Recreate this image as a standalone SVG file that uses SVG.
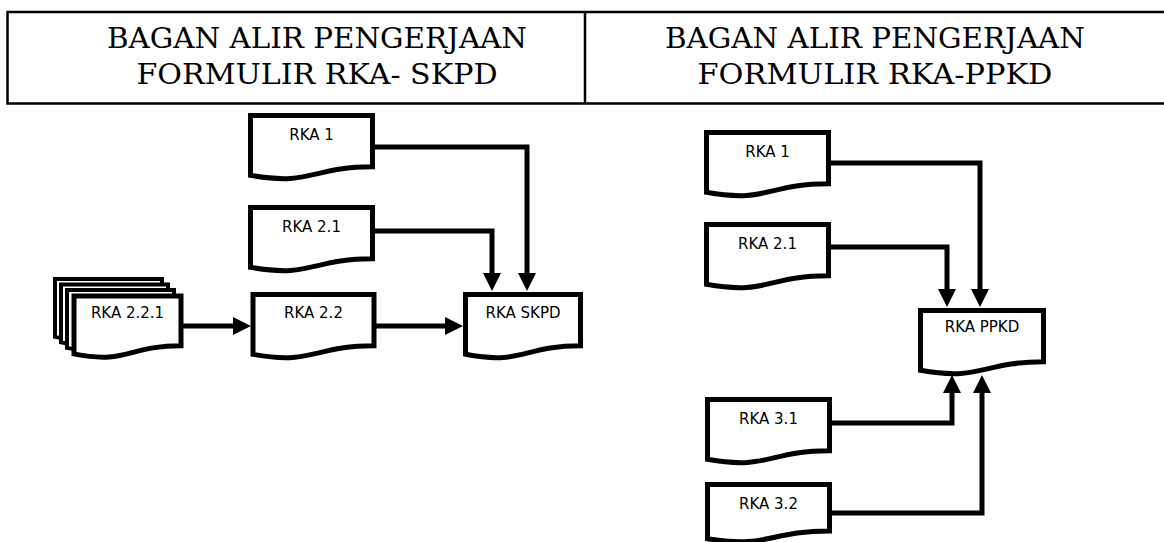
<svg xmlns="http://www.w3.org/2000/svg" width="1164" height="542" viewBox="0 0 1164 542">
<style>
.hdr{fill:none;stroke:#000;stroke-width:2.5}
.ht{font-family:"DejaVu Serif","Liberation Serif",serif;font-size:27px;fill:#000;text-anchor:middle}
.doc{fill:#fff;stroke:#000;stroke-width:5;stroke-linejoin:miter}
.stk{fill:#fff;stroke:#000;stroke-width:4;stroke-linejoin:miter}
.lbl{font-family:"DejaVu Sans","Liberation Sans",sans-serif;font-size:15px;fill:#000;text-anchor:middle}
.con{fill:none;stroke:#000;stroke-width:5;stroke-linejoin:miter;marker-end:url(#ah)}
</style>
<defs>
<marker id="ah" markerWidth="18" markerHeight="18" refX="0" refY="9" orient="auto" markerUnits="userSpaceOnUse" viewBox="0 0 18 18"><path d="M0,0 L18,9 L0,18 Z" fill="#000"/></marker>
</defs>
<rect width="1164" height="542" fill="#fff"/>
<g id="header">
<path class="hdr" d="M1164,12 H7.5 V103.5 H1164 M585,12 V103.5"/>
<text class="ht" x="317" y="48" textLength="420" lengthAdjust="spacingAndGlyphs">BAGAN ALIR PENGERJAAN</text>
<text class="ht" x="317" y="84" textLength="361" lengthAdjust="spacingAndGlyphs">FORMULIR RKA- SKPD</text>
<text class="ht" x="875" y="48" textLength="420" lengthAdjust="spacingAndGlyphs">BAGAN ALIR PENGERJAAN</text>
<text class="ht" x="875" y="84" textLength="355" lengthAdjust="spacingAndGlyphs">FORMULIR RKA-PPKD</text>
</g>
<g id="connectors">
<path class="con" d="M183,326 H233"/>
<path class="con" d="M374,326 H445"/>
<path class="con" d="M372.5,147 H527 V273"/>
<path class="con" d="M372.5,231 H492 V273"/>
<path class="con" d="M828.5,163 H980 V289"/>
<path class="con" d="M828.5,247 H947 V289"/>
<path class="con" d="M829.5,423 H952 V393"/>
<path class="con" d="M829.5,513 H982 V393"/>
</g>
<g id="l-rka1">
<path class="doc" d="M250.5,115.5 H372.5 V166.8 C311.5,166.8 311.5,186.3 250.5,175.3 Z"/>
<text class="lbl" x="311.5" y="140">RKA 1</text>
</g>
<g id="l-rka21">
<path class="doc" d="M250.5,207.5 H372.5 V258.8 C311.5,258.8 311.5,278.3 250.5,267.3 Z"/>
<text class="lbl" x="311.5" y="232">RKA 2.1</text>
</g>
<g id="l-rka221">
<path class="stk" d="M55,279 H162 V328.7 C108.5,328.7 108.5,347.6 55,336.9 Z"/>
<path class="stk" d="M61,284.5 H168 V334.2 C114.5,334.2 114.5,353.1 61,342.4 Z"/>
<path class="stk" d="M67,290 H174 V339.7 C120.5,339.7 120.5,358.6 67,347.9 Z"/>
<path class="doc" d="M74,296 H181 V345.7 C127.5,345.7 127.5,364.6 74,353.9 Z"/>
<text class="lbl" x="127.5" y="318">RKA 2.2.1</text>
</g>
<g id="l-rka22">
<path class="doc" d="M253,294.5 H374 V345.8 C313.5,345.8 313.5,365.3 253,354.3 Z"/>
<text class="lbl" x="313.5" y="318">RKA 2.2</text>
</g>
<g id="l-skpd">
<path class="doc" d="M465.5,294.5 H580.5 V345.8 C523,345.8 523,365.3 465.5,354.3 Z"/>
<text class="lbl" x="523" y="318">RKA SKPD</text>
</g>
<g id="r-rka1">
<path class="doc" d="M706.5,132.5 H828.5 V183.8 C767.5,183.8 767.5,203.3 706.5,192.3 Z"/>
<text class="lbl" x="767.5" y="157">RKA 1</text>
</g>
<g id="r-rka21">
<path class="doc" d="M706.5,224.5 H828.5 V275.8 C767.5,275.8 767.5,295.3 706.5,284.3 Z"/>
<text class="lbl" x="767.5" y="249">RKA 2.1</text>
</g>
<g id="r-ppkd">
<path class="doc" d="M920.5,310.5 H1043.5 V361.8 C982,361.8 982,381.3 920.5,370.3 Z"/>
<text class="lbl" x="982" y="332">RKA PPKD</text>
</g>
<g id="r-rka31">
<path class="doc" d="M707.5,399.5 H829.5 V450.8 C768.5,450.8 768.5,470.3 707.5,459.3 Z"/>
<text class="lbl" x="768.5" y="424">RKA 3.1</text>
</g>
<g id="r-rka32">
<path class="doc" d="M707.5,484.5 H829.5 V531 C768.5,531 768.5,548.7 707.5,538.7 Z"/>
<text class="lbl" x="768.5" y="509">RKA 3.2</text>
</g>
</svg>
